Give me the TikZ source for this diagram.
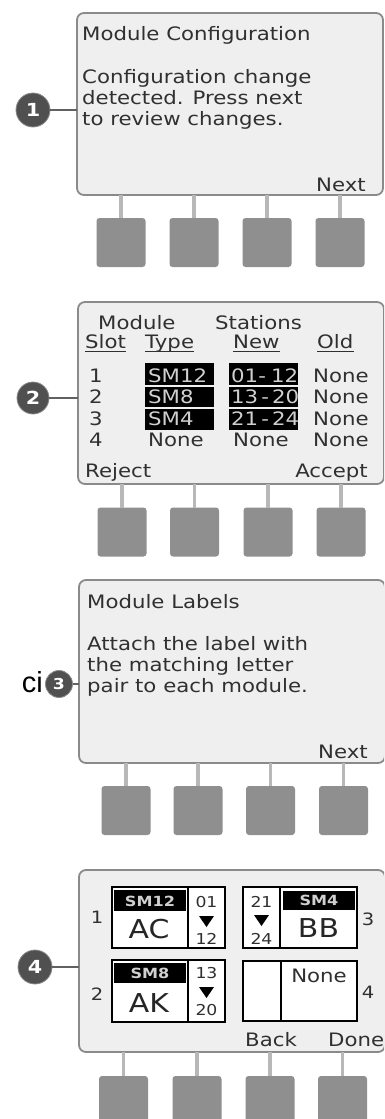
\documentclass[tikz,border=0pt]{standalone}
\usepackage{fontspec}
\setmainfont{DejaVu Sans}[FakeStretch=1.15]
\newfontfamily\cifont{Liberation Sans}
\definecolor{scrfill}{HTML}{EFEFEF}
\definecolor{scrline}{HTML}{8A8A8A}
\definecolor{btnfill}{HTML}{8F8F8F}
\definecolor{stemc}{HTML}{B8B8B8}
\definecolor{txtc}{HTML}{303030}
\definecolor{numfill}{HTML}{505050}
\definecolor{hltxt}{HTML}{D0D0D0}
\newcommand\myfs[1]{\fontsize{#1}{#1}\selectfont}
\begin{document}
\begin{tikzpicture}[x=1pt,y=-1pt,
  screen/.style={draw=scrline, line width=1.8pt, fill=scrfill, rounded corners=7pt,
                 inner sep=0pt, outer sep=0pt, anchor=north west, minimum width=306pt},
  btn/.style={fill=btnfill, rounded corners=3pt, minimum width=49pt, minimum height=49pt,
              inner sep=0pt, outer sep=0pt},
  stem/.style={draw=stemc, line width=3.5pt},
  num/.style={circle, fill=numfill, draw=scrline, line width=0.8pt, text=white, inner sep=0pt,
              font=\bfseries\myfs{18}},
  conn/.style={draw=scrline!70!black, line width=1.4pt},
  t/.style={text=txtc, inner sep=0pt, font=\myfs{18.5}},
  hl/.style={text=hltxt, inner sep=0pt, font=\myfs{18.5}},
  ul/.style={draw=txtc, line width=1pt},
  lbox/.style={draw=black, line width=1.4pt, fill=white},
  sm/.style={text=hltxt, inner sep=0pt, font=\bfseries\myfs{14}},
  big/.style={text=black!85, inner sep=0pt, font=\myfs{26}},
  small/.style={text=txtc, inner sep=0pt, font=\myfs{15}},
  slot/.style={text=txtc, inner sep=0pt, font=\myfs{17}}
]
\useasboundingbox (0,0) rectangle (384,1119);
\clip (0,0) rectangle (384,1119);

% ---------- screens ----------
\node[screen, minimum height=182pt] (s1) at (77,13) {};
\node[screen, minimum height=182pt] (s2) at (78,302) {};
\node[screen, minimum height=183pt] (s3) at (79,580) {};
\node[screen, minimum height=182pt] (s4) at (79,870) {};

% ---------- buttons and stems ----------
\foreach \p/\y/\xa/\xb/\xc/\xd in {1/242.5/121/194/267/340,
                                  2/532/122/194.5/268/341,
                                  3/810.5/126/198/270.5/343.5,
                                  4/1100.5/123.5/197/270/342.5}{
  \node[btn] (b\p a) at (\xa,\y) {};
  \node[btn] (b\p b) at (\xb,\y) {};
  \node[btn] (b\p c) at (\xc,\y) {};
  \node[btn] (b\p d) at (\xd,\y) {};
  \foreach \k in {a,b,c,d}{
    \draw[stem] (b\p\k.north |- s\p.south) -- (b\p\k.north);
  }
}

% ---------- numbered markers ----------
\node[num, minimum size=34pt] (c1) at (33,110) {1};
\node[num, minimum size=32pt] (c2) at (33,398) {2};
\node[num, minimum size=27pt, font=\bfseries\myfs{15}] (c3) at (59,684) {3};
\node[num, minimum size=34pt] (c4) at (35,967) {4};
\draw[conn] (c1.east) -- (c1.east -| s1.west);
\draw[conn] (c2.east) -- (c2.east -| s2.west);
\draw[conn] (c3.east) -- (c3.east -| s3.west);
\draw[conn] (c4.east) -- (c4.east -| s4.west);
\node[inner sep=0pt, anchor=base east, font=\cifont\myfs{29}] (ci) at (43,692) {ci};

% ---------- panel 1 ----------
\node[t, anchor=base west] (p1a) at (82,40) {Module Configuration};
\node[t, anchor=base west] (p1b) at (82,83) {Configuration change};
\node[t, anchor=base west] (p1c) at (82,104) {detected. Press next};
\node[t, anchor=base west] (p1d) at (82,125) {to review changes.};
\node[t, anchor=base east] (p1e) at (366,191) {Next};

% ---------- panel 2 ----------
\node[t, anchor=base west] (h1) at (98,329) {Module};
\node[t, anchor=base west] (h2) at (215,329) {Stations};
\node[t, anchor=base west] (u1) at (85,348) {Slot};
\node[t, anchor=base west] (u2) at (145,348) {Type};
\node[t, anchor=base west] (u3) at (233,348) {New};
\node[t, anchor=base west] (u4) at (317,348) {Old};
\foreach \n in {u1,u2,u3,u4}{
  \draw[ul] ([yshift=-3pt]\n.base west) -- ([yshift=-3pt]\n.base east);
}
\fill[black] (145,363) rectangle (214,385);
\fill[black] (145,386.5) rectangle (214,407);
\fill[black] (145,408.5) rectangle (214,429.5);
\fill[black] (229,363) rectangle (298,385);
\fill[black] (229,386.5) rectangle (298,407);
\fill[black] (229,408.5) rectangle (298,429.5);
\node[t, anchor=base] (r1) at (96,382) {1};
\node[t, anchor=base] (r2) at (96,403.5) {2};
\node[t, anchor=base] (r3) at (96,425) {3};
\node[t, anchor=base] (r4) at (96,446.5) {4};
\node[hl, anchor=base west] (m1) at (148,382) {SM12};
\node[hl, anchor=base west] (m2) at (148,403.5) {SM8};
\node[hl, anchor=base west] (m3) at (148,425) {SM4};
\node[t, anchor=base west] (m4) at (148,446.5) {None};
\node[hl, anchor=base west] (n1) at (231,382) {01-\;12};
\node[hl, anchor=base west] (n2) at (231,403.5) {13\,-\,20};
\node[hl, anchor=base west] (n3) at (231,425) {21\,-\,24};
\node[t, anchor=base west] (n4) at (233,446.5) {None};
\node[t, anchor=base west] (o1) at (313,382) {None};
\node[t, anchor=base west] (o2) at (313,403.5) {None};
\node[t, anchor=base west] (o3) at (313,425) {None};
\node[t, anchor=base west] (o4) at (313,446.5) {None};
\node[t, anchor=base west] (rej) at (85,477) {Reject};
\node[t, anchor=base east] (acc) at (368,477) {Accept};

% ---------- panel 3 ----------
\node[t, anchor=base west] (p3a) at (87,608) {Module Labels};
\node[t, anchor=base west] (p3b) at (87,650) {Attach the label with};
\node[t, anchor=base west] (p3c) at (87,671) {the matching letter};
\node[t, anchor=base west] (p3d) at (87,692) {pair to each module.};
\node[t, anchor=base east] (p3e) at (368,758) {Next};

% ---------- panel 4 ----------
% box 1
\draw[lbox] (112,887) rectangle (225,948);
\draw[lbox] (188,887) -- (188,948);
\fill[black] (114,890) rectangle (186,911);
\node[sm, anchor=base] (k1) at (150,906) {SM12};
\node[big, anchor=base] (l1) at (149,938) {AC};
\node[small, anchor=base] (a1) at (206.5,907) {01};
\fill[black] (199,916) -- (214,916) -- (206.5,927) -- cycle;
\node[small, anchor=base] (z1) at (206.5,944) {12};
\node[slot, anchor=base] (q1) at (97,923) {1};
% box 2
\draw[lbox] (112,960) rectangle (225,1022);
\draw[lbox] (188,960) -- (188,1022);
\fill[black] (114,963) rectangle (186,983);
\node[sm, anchor=base] (k2) at (150,978) {SM8};
\node[big, anchor=base] (l2) at (149,1012) {AK};
\node[small, anchor=base] (a2) at (206.5,978) {13};
\fill[black] (199,987) -- (214,987) -- (206.5,998) -- cycle;
\node[small, anchor=base] (z2) at (206.5,1015) {20};
\node[slot, anchor=base] (q2) at (97,1000) {2};
% box 3
\draw[lbox] (243,887) rectangle (357,948);
\draw[lbox] (280,887) -- (280,948);
\fill[black] (283,891) rectangle (355,910);
\node[sm, anchor=base] (k3) at (319,905.5) {SM4};
\node[big, anchor=base] (l3) at (318.5,937) {BB};
\node[small, anchor=base] (a3) at (261.5,907) {21};
\fill[black] (254,915) -- (269,915) -- (261.5,926) -- cycle;
\node[small, anchor=base] (z3) at (261.5,944) {24};
\node[slot, anchor=base] (q3) at (368,925) {3};
% box 4
\draw[lbox] (243,961) rectangle (357,1021);
\draw[lbox] (281,961) -- (281,1021);
\node[t, anchor=base] (k4) at (319,982) {None};
\node[slot, anchor=base] (q4) at (368,998) {4};
\node[t, anchor=base west] (back) at (245,1046) {Back};
\node[t, anchor=base west] (done) at (328,1046) {Done};
\end{tikzpicture}
\end{document}
